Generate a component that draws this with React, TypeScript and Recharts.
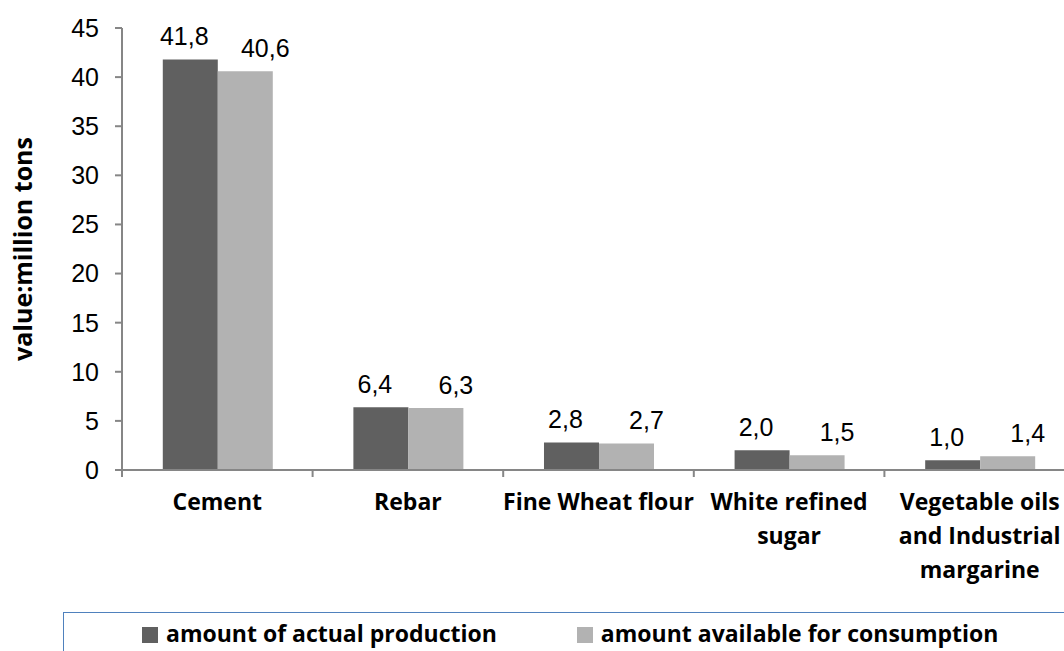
import React from "react";
import { BarChart, Bar, XAxis, YAxis, Legend, LabelList } from "recharts";

const categories = [
  "Cement",
  "Rebar",
  "Fine Wheat flour",
  "White refined\nsugar",
  "Vegetable oils\nand Industrial\nmargarine",
];
const actualProduction = [41.8, 6.4, 2.8, 2.0, 1.0];
const availableConsumption = [40.6, 6.3, 2.7, 1.5, 1.4];
const seriesNames = ["amount of actual production", "amount available for consumption"];
const yTicks = [0, 5, 10, 15, 20, 25, 30, 35, 40, 45];

const data = categories.map((name, i) => ({
  name,
  actual: actualProduction[i],
  available: availableConsumption[i],
}));

const CHART_W = 1080;
const CHART_H = 651;
const MARGIN = { top: 28, right: 5, left: 0, bottom: 0 };
const Y_AXIS_W = 122;
const BAND = (CHART_W - MARGIN.left - MARGIN.right - Y_AXIS_W) / categories.length;

const AXIS_GREY = "#868686";
const DARK = "#606060";
const LIGHT = "#b2b2b2";
const BOLD_FONT = "'Open Sans', sans-serif";
const NUM_FONT = "'Liberation Sans', Arial, sans-serif";

const fmt = (v: number) => v.toFixed(1).replace(".", ",");

function CategoryTick(props: any) {
  const { x, y, payload, index } = props;
  const lines = String(payload.value).split("\n");
  const last = index === categories.length - 1;
  return (
    <g>
      <line x1={x - BAND / 2} x2={x - BAND / 2} y1={y} y2={y + 7} stroke={AXIS_GREY} strokeWidth={2} />
      {last && (
        <line x1={x + BAND / 2} x2={x + BAND / 2} y1={y} y2={y + 7} stroke={AXIS_GREY} strokeWidth={2} />
      )}
      <text
        x={x}
        y={y + 40}
        textAnchor="middle"
        fontFamily={BOLD_FONT}
        fontWeight={700}
        fontSize={23}
        fill="#000"
      >
        {lines.map((line, i) => (
          <tspan key={i} x={x} dy={i === 0 ? 0 : 34}>
            {line}
          </tspan>
        ))}
      </text>
    </g>
  );
}

function makeValueLabel(dx: number) {
  return (props: any) => {
    const { x, y, width, value } = props;
    return (
      <text
        x={x + width / 2 + dx}
        y={y - 14}
        textAnchor="middle"
        fontFamily={NUM_FONT}
        fontSize={25}
        fill="#000"
      >
        {fmt(value)}
      </text>
    );
  };
}

function LegendBox(props: any) {
  const items = [...(props.payload || [])].sort(
    (a: any, b: any) => seriesNames.indexOf(a.value) - seriesNames.indexOf(b.value)
  );
  return (
    <div
      style={{
        boxSizing: "border-box",
        width: 1050,
        height: 60,
        border: "1.5px solid #4f81bd",
        display: "flex",
        gap: 80,
        paddingLeft: 78,
        paddingTop: 4,
        fontFamily: BOLD_FONT,
        fontWeight: 700,
        fontSize: 23,
        color: "#000",
        whiteSpace: "nowrap",
      }}
    >
      {items.map((entry: any) => (
        <div key={entry.value} style={{ display: "flex", alignItems: "center", height: 31 }}>
          <span
            style={{ display: "inline-block", width: 16, height: 16, background: entry.color, marginRight: 8, marginTop: 4 }}
          />
          <span>{entry.value}</span>
        </div>
      ))}
    </div>
  );
}

export default function App() {
  return (
    <div
      style={{
        position: "absolute",
        left: 0,
        top: 0,
        width: 1064,
        height: 651,
        overflow: "hidden",
        background: "#fff",
      }}
    >
      <BarChart
        width={CHART_W}
        height={CHART_H}
        data={data}
        margin={MARGIN}
        barCategoryGap="21.4%"
        barGap={0}
      >
        <XAxis
          dataKey="name"
          interval={0}
          axisLine={{ stroke: AXIS_GREY, strokeWidth: 2 }}
          tickLine={false}
          tickSize={0}
          tickMargin={0}
          height={CHART_H - 470 - MARGIN.bottom}
          tick={<CategoryTick />}
        />
        <YAxis
          width={Y_AXIS_W}
          domain={[0, 45]}
          ticks={yTicks}
          interval={0}
          axisLine={{ stroke: AXIS_GREY, strokeWidth: 2 }}
          tickLine={{ stroke: AXIS_GREY, strokeWidth: 2 }}
          tickSize={7}
          tickMargin={16}
          tick={{ fill: "#000", fontSize: 25, fontFamily: NUM_FONT }}
          label={{
            content: (p: any) => {
              const vb = p.viewBox;
              const cy = vb.y + vb.height / 2;
              return (
                <text
                  x={22}
                  y={cy}
                  transform={`rotate(-90 22 ${cy})`}
                  textAnchor="middle"
                  dominantBaseline="central"
                  fontFamily={BOLD_FONT}
                  fontWeight={700}
                  fontSize={25}
                  fill="#000"
                >
                  value:million tons
                </text>
              );
            },
          }}
        />
        <Legend
          verticalAlign="middle"
          align="center"
          content={<LegendBox />}
          wrapperStyle={{ left: 63, top: 612, width: 1050, height: 60 }}
        />
        <Bar dataKey="actual" name={seriesNames[0]} fill={DARK} isAnimationActive={false}>
          <LabelList dataKey="actual" content={makeValueLabel(-6)} />
        </Bar>
        <Bar dataKey="available" name={seriesNames[1]} fill={LIGHT} isAnimationActive={false}>
          <LabelList dataKey="available" content={makeValueLabel(20)} />
        </Bar>
      </BarChart>
    </div>
  );
}
